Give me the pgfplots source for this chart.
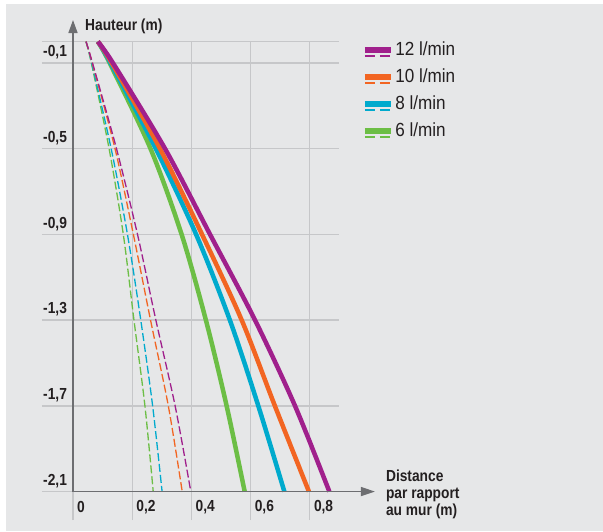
\documentclass[border=0pt]{standalone}
\usepackage{pgfplots}
\pgfplotsset{compat=1.18}
\usetikzlibrary{arrows.meta}
\usepackage{fontspec}
\setmainfont{Liberation Sans}
\newfontfamily\condfont[FakeStretch=0.86]{Liberation Sans}
\newfontfamily\legfont[FakeStretch=0.9]{Liberation Sans}

\definecolor{cMag}{RGB}{160,32,140}
\definecolor{cOra}{RGB}{242,101,34}
\definecolor{cCya}{RGB}{0,170,205}
\definecolor{cGre}{RGB}{108,190,69}
\definecolor{panel}{RGB}{230,231,232}
\definecolor{gridc}{RGB}{198,199,201}
\definecolor{axisc}{RGB}{109,110,113}
\definecolor{txt}{RGB}{35,31,32}

\pgfplotsset{
 solidc/.style={line width=4.5bp, smooth},
 dashc/.style={line width=1.3bp, dash pattern=on 8bp off 3bp, smooth, forget plot}
}

\begin{document}
\begin{tikzpicture}
\begin{axis}[
 set layers,
 x=296bp, y=214.25bp,
 xmin=-0.10473, xmax=0.9, ymin=-2.2329, ymax=0,
 axis line style={draw=none},
 clip=false,
 grid=major,
 major grid style={draw=gridc, line width=1.3bp},
 major tick length=0pt,
 xtick={0,0.2,0.4,0.6,0.8},
 xticklabels={0,{0,2},{0,4},{0,6},{0,8}},
 ytick={-2.1,-1.7,-1.3,-0.9,-0.5,-0.1,0},
 yticklabels={{-2,1},{-1,7},{-1,3},{-0,9},{-0,5},{-0,1},{}},
 ticklabel style={font=\fontsize{16bp}{18bp}\condfont\bfseries, text=txt},
 xticklabel style={anchor=west, inner sep=0pt, xshift=4bp, yshift=13bp},
 yticklabel style={anchor=south west, inner sep=0pt, xshift=1bp, yshift=3.5bp},
 legend style={at={(axis cs:0.975,0.006)}, anchor=north west, draw=none, fill=none,
   font=\fontsize{19bp}{21bp}\legfont, text=txt, row sep=8.7bp, inner sep=0pt,
   nodes={inner sep=1.5bp}},
 legend cell align=left,
 reverse legend,
 legend image code/.code={
   \draw[line width=6bp] (0bp,0bp) -- (26bp,0bp);
   \draw[line width=1.4bp, dash pattern=on 10bp off 5bp] (0bp,-6.5bp) -- (26bp,-6.5bp);
 },
]
\begin{pgfonlayer}{axis background}
 \fill[white] (axis cs:-0.2466,0.1942) rectangle (axis cs:1.7905,-2.2844);
 \fill[panel] (axis cs:-0.2264,0.1755) rectangle (axis cs:1.7905,-2.2844);
\end{pgfonlayer}

% dashed curves
\addplot[dashc, cGre] coordinates {(0.044,0) (0.062,-0.1) (0.122,-0.5) (0.170,-0.9) (0.206,-1.3) (0.243,-1.7) (0.271,-2.1)};
\addplot[dashc, cCya] coordinates {(0.044,0) (0.063,-0.1) (0.129,-0.5) (0.184,-0.9) (0.229,-1.3) (0.269,-1.7) (0.301,-2.1)};
\addplot[dashc, cOra] coordinates {(0.044,0) (0.065,-0.1) (0.142,-0.5) (0.204,-0.9) (0.262,-1.3) (0.322,-1.7) (0.369,-2.1)};
\addplot[dashc, cMag] coordinates {(0.044,0) (0.066,-0.1) (0.147,-0.5) (0.218,-0.9) (0.280,-1.3) (0.345,-1.7) (0.398,-2.1)};

% solid curves
\addplot[solidc, cGre] coordinates {(0.084,0) (0.124,-0.1) (0.262,-0.5) (0.367,-0.9) (0.449,-1.3) (0.519,-1.7) (0.580,-2.1)};
\addlegendentry{6 l/min}
\addplot[solidc, cCya] coordinates {(0.084,0) (0.127,-0.1) (0.280,-0.5) (0.416,-0.9) (0.530,-1.3) (0.626,-1.7) (0.714,-2.1)};
\addlegendentry{8 l/min}
\addplot[solidc, cOra] coordinates {(0.084,0) (0.131,-0.1) (0.294,-0.5) (0.436,-0.9) (0.570,-1.3) (0.682,-1.7) (0.797,-2.1)};
\addlegendentry{10 l/min}
\addplot[solidc, cMag] coordinates {(0.084,0) (0.135,-0.1) (0.311,-0.5) (0.463,-0.9) (0.615,-1.3) (0.750,-1.7) (0.866,-2.1)};
\addlegendentry{12 l/min}

% axes
\draw[axisc, line width=1.5bp, -{Triangle[length=13bp,width=9bp]}] (axis cs:0,-2.1) -- (axis cs:0,0.1008);
\draw[axisc, line width=1.5bp, -{Triangle[length=14bp,width=9bp]}] (axis cs:0,-2.1) -- (axis cs:1.02,-2.1);

% axis titles
\node[anchor=west, inner sep=0pt, font=\fontsize{16bp}{18bp}\condfont\bfseries, text=txt] at (axis cs:0.0405,0.0728) {Hauteur (m)};
\node[anchor=north west, align=left, inner sep=0pt, font=\fontsize{16bp}{17bp}\condfont\bfseries, text=txt] at (axis cs:1.057,-1.996) {Distance\\par rapport\\au mur (m)};
\end{axis}
\end{tikzpicture}
\end{document}
